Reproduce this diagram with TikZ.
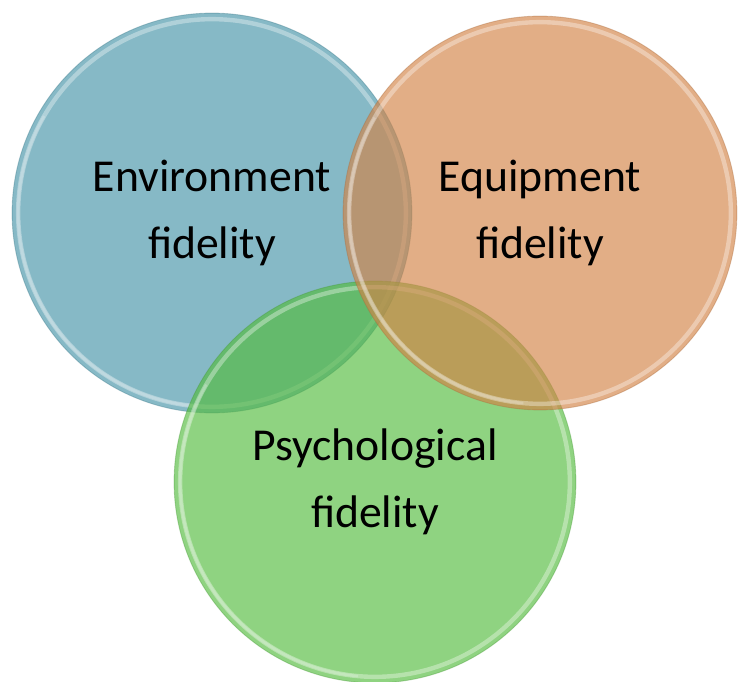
\documentclass[tikz,border=0pt]{standalone}
\usepackage{fontspec}
\setmainfont{Carlito}

\definecolor{envblue}{RGB}{69,147,167}
\definecolor{psygreen}{RGB}{83,187,61}
\definecolor{eqporange}{RGB}{210,130,69}

\tikzset{
  venn/.style={circle, inner sep=0pt, outer sep=0pt, align=center,
    fill opacity=.65, draw opacity=.35, text opacity=1, line width=.5pt,
    font=\fontsize{26}{38}\selectfont,
    % soft glossy rim just inside the edge
    path picture={
      \draw[white, opacity=.35, line width=2.5pt]
        (path picture bounding box.center) circle[radius=#1*0.02cm-3.5pt];
      \draw[white, opacity=.2, line width=1.5pt]
        (path picture bounding box.center) ++(150:#1*0.02cm-3.5pt)
        arc[start angle=150, end angle=265, radius=#1*0.02cm-3.5pt];
    },
    minimum size=#1*0.04cm},
}

\begin{document}
\begin{tikzpicture}[x=0.02cm, y=-0.02cm]
  \useasboundingbox (0,0) rectangle (738,682);
  \foreach \n/\x/\y/\r/\c/\t in {E/212/213/200/envblue/{Environment\\fidelity},
      P/375/482/201/psygreen/{Psychological\\fidelity},
      Q/540/213/197/eqporange/{Equipment\\fidelity}}{%
    \node(\n)[venn=\r, fill=\c, draw=\c!80!black] at(\x,\y) {\t};
  }
\end{tikzpicture}
\end{document}
